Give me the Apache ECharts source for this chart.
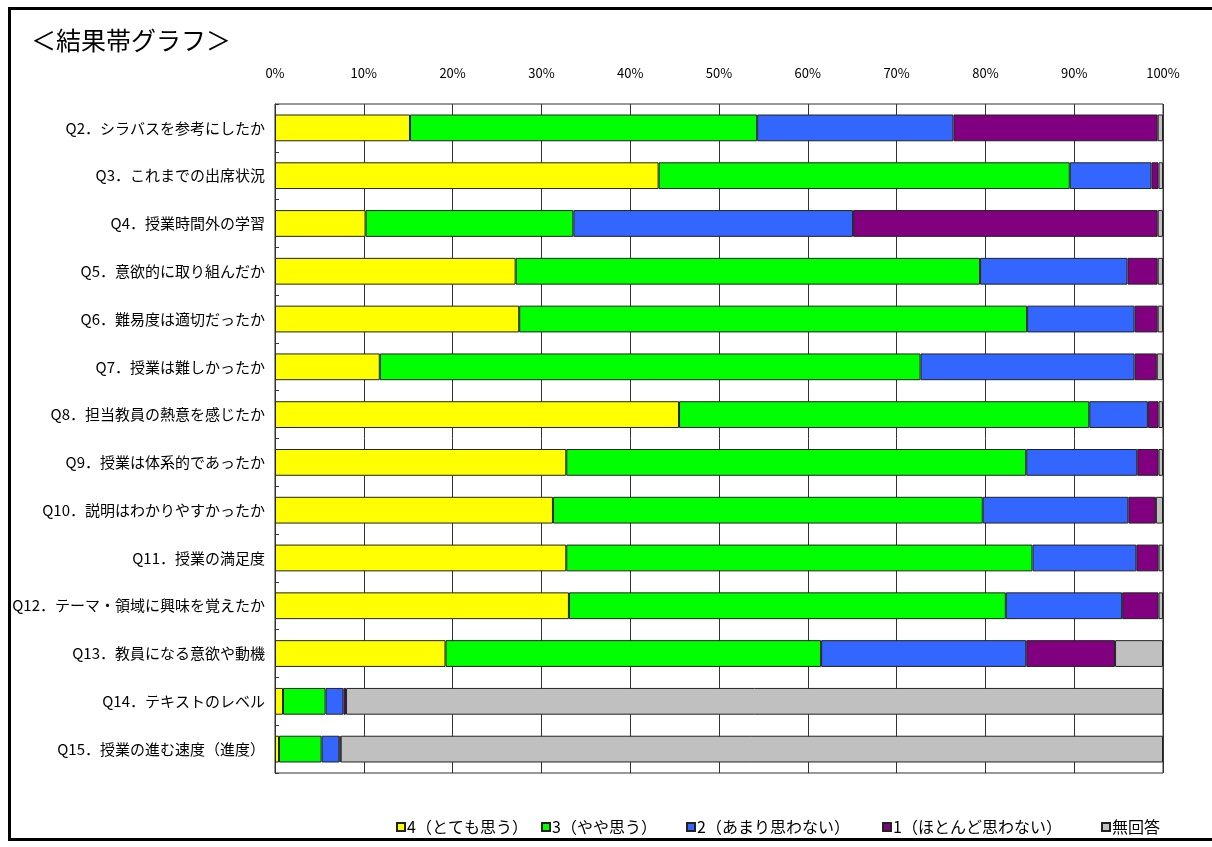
<!DOCTYPE html>
<html>
<head>
<meta charset="utf-8">
<script src="https://cdn.jsdelivr.net/npm/echarts@6/dist/echarts.min.js"></script>
<style>
  html, body { margin: 0; padding: 0; background: #fff; }
  #frame {
    position: absolute; left: 8px; top: 7px; width: 1220px; height: 834px;
    border: 3px solid #000; box-sizing: border-box;
  }
  #chart { position: absolute; left: 0; top: 0; width: 1212px; height: 847px; }
</style>
</head>
<body>
<div id="frame"></div>
<div id="chart"></div>
<script>
// 設問
const questions = [
  "Q2．シラバスを参考にしたか",
  "Q3．これまでの出席状況",
  "Q4．授業時間外の学習",
  "Q5．意欲的に取り組んだか",
  "Q6．難易度は適切だったか",
  "Q7．授業は難しかったか",
  "Q8．担当教員の熱意を感じたか",
  "Q9．授業は体系的であったか",
  "Q10．説明はわかりやすかったか",
  "Q11．授業の満足度",
  "Q12．テーマ・領域に興味を覚えたか",
  "Q13．教員になる意欲や動機",
  "Q14．テキストのレベル",
  "Q15．授業の進む速度（進度）"
];
const tickLabels = ["0%", "10%", "20%", "30%", "40%", "50%", "60%", "70%", "80%", "90%", "100%"];

// 回答割合 (%)
const ans4 = [15.2, 43.2, 10.2, 27.1, 27.5, 11.8, 45.5, 32.8, 31.3, 32.8, 33.1, 19.2, 0.9, 0.45];
const ans3 = [39.1, 46.3, 23.4, 52.3, 57.2, 60.9, 46.2, 51.8, 48.4, 52.5, 49.2, 42.3, 4.8, 4.8];
const ans2 = [22.1, 9.2, 31.5, 16.6, 12.1, 24.1, 6.6, 12.5, 16.4, 11.7, 13.1, 23.1, 2.0, 2.0];
const ans1 = [23.0, 0.8, 34.3, 3.4, 2.6, 2.5, 1.2, 2.4, 3.1, 2.5, 4.1, 10.0, 0.3, 0.15];
const noAns = [0.6, 0.5, 0.6, 0.6, 0.6, 0.7, 0.5, 0.5, 0.8, 0.5, 0.5, 5.4, 92.0, 92.6];

const seriesNames = ["4（とても思う）", "3（やや思う）", "2（あまり思わない）", "1（ほとんど思わない）", "無回答"];
const seriesColors = ["#ffff00", "#00ff00", "#3366ff", "#800080", "#c0c0c0"];
const seriesData = [ans4, ans3, ans2, ans1, noAns];
// 凡例の位置
const legendLeft = [391, 536, 681, 877, 1096];

const font = "'Noto Sans CJK JP', sans-serif";

var myChart = echarts.init(document.getElementById("chart"));
myChart.setOption({
  animation: false,
  title: {
    text: "＜結果帯グラフ＞",
    left: 26,
    top: 23,
    textStyle: { fontSize: 25, fontWeight: "normal", color: "#000", fontFamily: font }
  },
  legend: seriesNames.map((name, i) => ({
    data: [name],
    left: legendLeft[i],
    top: 814,
    itemWidth: 8,
    itemHeight: 8,
    icon: "rect",
    textStyle: { fontSize: 16, color: "#000", fontFamily: font, padding: [0, 0, 0, -3] }
  })),
  grid: {
    left: 275,
    right: 49,
    top: 104,
    bottom: 74,
    show: true,
    borderColor: "#333",
    borderWidth: 1
  },
  xAxis: {
    type: "value",
    position: "top",
    min: 0,
    max: 100,
    interval: 10,
    axisLine: { show: false },
    axisTick: { show: false },
    splitLine: { show: true, lineStyle: { color: "#333", width: 1 } },
    axisLabel: {
      margin: 24,
      fontSize: 13,
      color: "#000",
      fontFamily: font,
      formatter: (v) => tickLabels[v / 10]
    }
  },
  yAxis: {
    type: "category",
    data: questions,
    inverse: true,
    axisLine: { show: true, lineStyle: { color: "#333" } },
    axisTick: { show: true, inside: true, length: 4, lineStyle: { color: "#333" } },
    axisLabel: { fontSize: 15, color: "#000", fontFamily: font, margin: 10 }
  },
  series: seriesData.map((d, i) => ({
    name: seriesNames[i],
    type: "bar",
    stack: "total",
    data: d,
    barWidth: "56%",
    itemStyle: { color: seriesColors[i], borderColor: "#222", borderWidth: 1 }
  }))
});
</script>
</body>
</html>
